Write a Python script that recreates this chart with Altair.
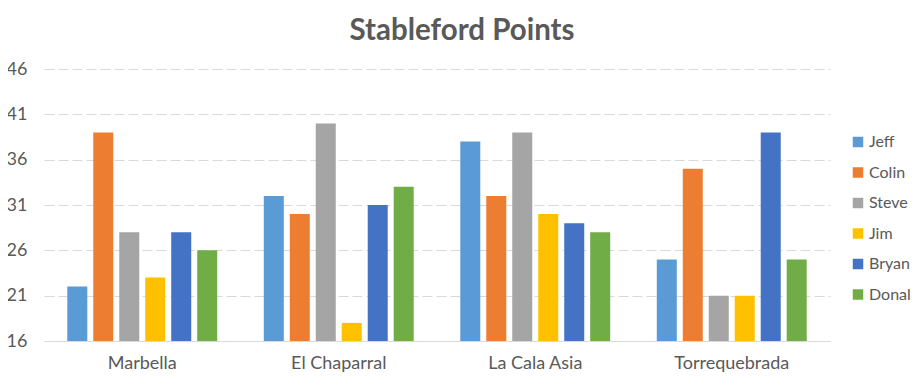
import altair as alt
import pandas as pd

courses = ["Marbella", "El Chaparral", "La Cala Asia", "Torrequebrada"]
players = ["Jeff", "Colin", "Steve", "Jim", "Bryan", "Donal"]
jeff = [22, 32, 38, 25]
colin = [39, 30, 32, 35]
steve = [28, 40, 39, 21]
jim = [23, 18, 30, 21]
bryan = [28, 31, 29, 39]
donal = [26, 33, 28, 25]
colors = ["#5B9BD5", "#ED7D31", "#A5A5A5", "#FFC000", "#4472C4", "#70AD47"]
y_ticks = [16, 21, 26, 31, 36, 41, 46]

series = dict(zip(players, [jeff, colin, steve, jim, bryan, donal]))
rows = []
for p in players:
    for c, v in zip(courses, series[p]):
        rows.append({"Course": c, "Player": p, "Points": v})
df = pd.DataFrame(rows)

FONT = "Lato"
GREY = "#595959"

chart = alt.Chart(df).mark_bar().encode(
    x=alt.X("Course:N", sort=courses,
            scale=alt.Scale(paddingInner=0.237, paddingOuter=0.1185),
            axis=alt.Axis(title=None, labelAngle=0, ticks=False, domain=True,
                          domainColor="#D9D9D9", domainWidth=1,
                          labelFontSize=18, labelColor=GREY, labelFont=FONT,
                          labelPadding=13, grid=False)),
    xOffset=alt.XOffset("Player:N", sort=players,
                        scale=alt.Scale(paddingInner=0.23, paddingOuter=0)),
    y=alt.Y("Points:Q", scale=alt.Scale(domain=[16, 46], zero=False, nice=False),
            axis=alt.Axis(title=None, values=y_ticks, ticks=False, domain=False,
                          labelFontSize=18, labelColor=GREY, labelFont=FONT,
                          labelPadding=17, grid=True, gridColor="#D9D9D9",
                          gridDash=[10, 4], gridWidth=1)),
    y2=alt.datum(16),
    color=alt.Color("Player:N", sort=players,
                    scale=alt.Scale(domain=players, range=colors),
                    legend=alt.Legend(title=None, orient="none", legendX=806, legendY=65,
                                      symbolType="square", symbolSize=110,
                                      symbolStrokeWidth=0, labelFontSize=16,
                                      labelColor=GREY, labelFont=FONT,
                                      rowPadding=14.5, labelOffset=3)),
).properties(
    width=786, height=272,
    background="white",
    title=alt.TitleParams("Stableford Points", fontSize=29.5, fontWeight="bold",
                          color=GREY, font=FONT, anchor="middle", dx=25, offset=14),
    autosize=alt.AutoSizeParams(type="none"),
    padding={"left": 36, "top": 61, "right": 86, "bottom": 36},
).configure_view(strokeWidth=0, stroke=None)

chart.save("out.html", embed_options={"renderer": "svg", "actions": False})
